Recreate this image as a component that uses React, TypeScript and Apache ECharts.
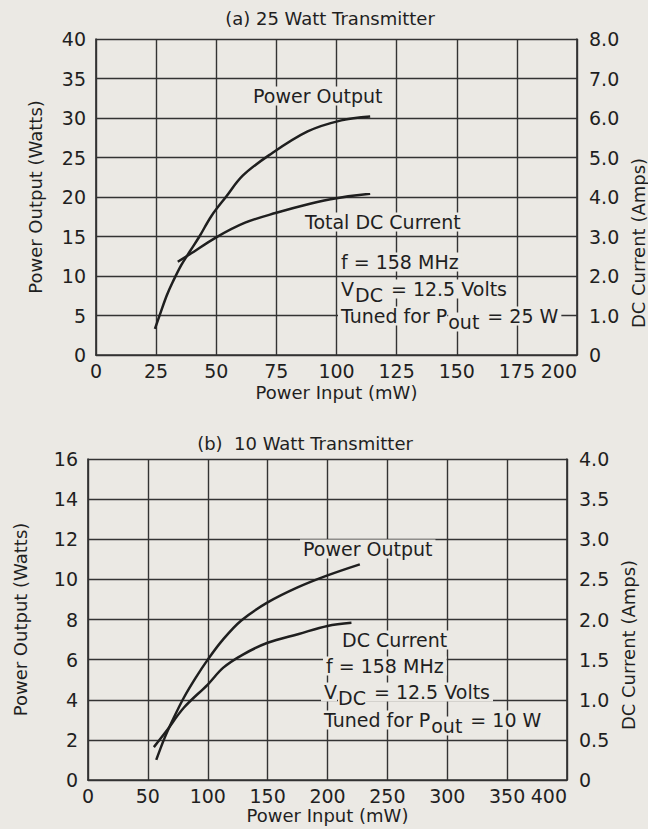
import React, { useEffect, useRef } from "react";
import * as echarts from "echarts";

// ---------- (a) 25 Watt Transmitter ----------
const aInputTicks = ["0", "25", "50", "75", "100", "125", "150", "175", "200"];
const aWattTicks = ["0", "5", "10", "15", "20", "25", "30", "35", "40"];
const aAmpTicks = ["0", "1.0", "2.0", "3.0", "4.0", "5.0", "6.0", "7.0", "8.0"];
const aPoutInput = [24.5, 27, 29.5, 32, 35.5, 39, 43, 48, 54, 61, 72, 88, 102, 114];
const aPoutWatts = [3.3, 5.5, 7.6, 9.3, 11.4, 13.1, 15.0, 17.6, 20.0, 22.7, 25.3, 28.3, 29.7, 30.2];
const aDcInput = [34, 39, 50, 62, 75, 89, 100, 114];
const aDcAmps = [2.36, 2.55, 2.98, 3.35, 3.6, 3.83, 3.97, 4.08];

// ---------- (b) 10 Watt Transmitter ----------
const bInputTicks = ["0", "50", "100", "150", "200", "250", "300", "350", "400"];
const bWattTicks = ["0", "2", "4", "6", "8", "10", "12", "14", "16"];
const bAmpTicks = ["0", "0.5", "1.0", "1.5", "2.0", "2.5", "3.0", "3.5", "4.0"];
const bPoutInput = [57, 64, 72, 80, 90, 100, 112, 128, 150, 175, 200, 227];
const bPoutWatts = [1.0, 2.1, 3.15, 4.1, 5.1, 6.0, 6.95, 7.95, 8.85, 9.6, 10.2, 10.75];
const bDcInput = [55, 65, 80, 100, 113, 129, 150, 176, 200, 220];
const bDcAmps = [0.41, 0.6, 0.9, 1.19, 1.4, 1.56, 1.71, 1.82, 1.92, 1.96];

const FONT = '"DejaVu Sans", sans-serif';
const INK = "#1f1f1f";
const LINE = "#333333";
const PAPER = "#ebe9e4";
const NOTE_SIZE = 19;

const zip = (xs: number[], ys: number[]) => xs.map((x, i) => [x, ys[i]]);
const tickFmt = (labels: string[], step: number) => (v: number) =>
  labels[Math.round(v / step)] ?? "";

let measureCtx: CanvasRenderingContext2D | null = null;
function textWidth(s: string, size: number) {
  if (!measureCtx) measureCtx = document.createElement("canvas").getContext("2d");
  if (!measureCtx) return s.length * size * 0.6;
  measureCtx.font = `${size}px ${FONT}`;
  return measureCtx.measureText(s).width;
}

const tickStyle = { fontSize: 19, color: INK, fontFamily: FONT };
const nameStyle = { fontSize: 18, color: INK, fontFamily: FONT };

function xAxisCfg(grid: number, labels: string[], step: number, gap: number) {
  return {
    type: "value",
    gridIndex: grid,
    min: 0,
    max: step * (labels.length - 1),
    interval: step,
    axisLine: { show: true, onZero: false, lineStyle: { color: LINE, width: 1.7 } },
    axisTick: { show: false },
    splitLine: { show: true, lineStyle: { color: LINE, width: 1.4 } },
    axisLabel: {
      ...tickStyle,
      margin: 6,
      alignMaxLabel: "right",
      formatter: tickFmt(labels, step),
    },
    name: "Power Input (mW)",
    nameLocation: "middle",
    nameGap: gap,
    nameTextStyle: { ...nameStyle },
  };
}

function yLeftCfg(grid: number, labels: string[], step: number, gap: number) {
  return {
    type: "value",
    gridIndex: grid,
    position: "left",
    min: 0,
    max: step * (labels.length - 1),
    interval: step,
    axisLine: { show: true, onZero: false, lineStyle: { color: LINE, width: 1.7 } },
    axisTick: { show: false },
    splitLine: { show: true, lineStyle: { color: LINE, width: 1.4 } },
    axisLabel: { ...tickStyle, margin: 10, formatter: tickFmt(labels, step) },
    name: "Power Output (Watts)",
    nameLocation: "middle",
    nameRotate: 90,
    nameGap: gap,
    nameTextStyle: { ...nameStyle },
  };
}

function yRightCfg(grid: number, labels: string[], step: number) {
  return {
    type: "value",
    gridIndex: grid,
    position: "right",
    min: 0,
    max: step * (labels.length - 1),
    interval: step,
    axisLine: { show: true, onZero: false, lineStyle: { color: LINE, width: 1.7 } },
    axisTick: { show: false },
    splitLine: { show: false },
    axisLabel: { ...tickStyle, margin: 12, formatter: tickFmt(labels, step) },
  };
}

const curve = (xi: number, yi: number, data: number[][]) => ({
  type: "line",
  xAxisIndex: xi,
  yAxisIndex: yi,
  data,
  smooth: 0.35,
  showSymbol: false,
  silent: true,
  lineStyle: { color: INK, width: 2.5 },
});

function note(x: number, y: number, text: string, z = 10, pad: number[] = [0, 3]) {
  return {
    type: "text",
    x,
    y,
    z,
    style: {
      text,
      fontSize: NOTE_SIZE,
      fontFamily: FONT,
      fill: INK,
      align: "left",
      verticalAlign: "middle",
      backgroundColor: PAPER,
      padding: pad,
    },
  };
}

// text with a subscript, built from three pieces placed side by side
function subNote(x: number, y: number, pre: string, sub: string, post: string) {
  const wPre = textWidth(pre, NOTE_SIZE);
  const wSub = textWidth(sub, NOTE_SIZE);
  const postX = x + 3 + wPre + wSub + 3;
  return [
    note(x, y, pre, 12, [0, 0, 0, 3]),
    note(x + 3 + wPre + 1, y + 6, sub, 12, [0, 0]),
    note(postX - 4, y, post, 10, [0, 3, 0, 4]),
  ];
}

function sideName(x: number, y: number, text: string) {
  return {
    type: "text",
    x,
    y,
    rotation: Math.PI / 2,
    z: 10,
    style: {
      text,
      fontSize: 18,
      fontFamily: FONT,
      fill: INK,
      align: "center",
      verticalAlign: "middle",
    },
  };
}

function title(x: number, y: number, text: string) {
  return {
    type: "text",
    x,
    y,
    style: { text, fontSize: 18, fontFamily: FONT, fill: INK, align: "center", verticalAlign: "middle" },
  };
}

export default function App() {
  const ref = useRef<HTMLDivElement>(null);

  useEffect(() => {
    if (!ref.current) return;
    const chart = echarts.init(ref.current, null, { renderer: "svg" });
    chart.setOption({
      animation: false,
      backgroundColor: PAPER,
      textStyle: { fontFamily: FONT },
      grid: [
        { left: 96, right: 71, top: 39, height: 316 },
        { left: 88, right: 81, top: 459, height: 321 },
      ],
      xAxis: [xAxisCfg(0, aInputTicks, 25, 28), xAxisCfg(1, bInputTicks, 50, 26)],
      yAxis: [
        yLeftCfg(0, aWattTicks, 5, 52),
        yRightCfg(0, aAmpTicks, 1),
        yLeftCfg(1, bWattTicks, 2, 59),
        yRightCfg(1, bAmpTicks, 0.5),
      ],
      series: [
        curve(0, 0, zip(aPoutInput, aPoutWatts)),
        curve(0, 1, zip(aDcInput, aDcAmps)),
        curve(1, 2, zip(bPoutInput, bPoutWatts)),
        curve(1, 3, zip(bDcInput, bDcAmps)),
      ],
      graphic: [
        title(330, 18, "(a) 25 Watt Transmitter"),
        title(305, 443, "(b)  10 Watt Transmitter"),
        sideName(638, 243, "DC Current (Amps)"),
        sideName(628, 645, "DC Current (Amps)"),
        note(250, 96, "Power Output"),
        note(302, 222, "Total DC Current"),
        note(338, 262, "f = 158 MHz"),
        ...subNote(338, 289, "V", "DC", " = 12.5 Volts"),
        ...subNote(338, 316, "Tuned for P", "out", " = 25 W"),
        note(300, 549, "Power Output"),
        note(339, 640, "DC Current"),
        note(323, 666, "f = 158 MHz"),
        ...subNote(321, 692, "V", "DC", " = 12.5 Volts"),
        ...subNote(321, 720, "Tuned for P", "out", " = 10 W"),
      ],
    });
    return () => chart.dispose();
  }, []);

  return (
    <div
      ref={ref}
      style={{ position: "absolute", left: 0, top: 0, width: 648, height: 829, background: PAPER }}
    />
  );
}
